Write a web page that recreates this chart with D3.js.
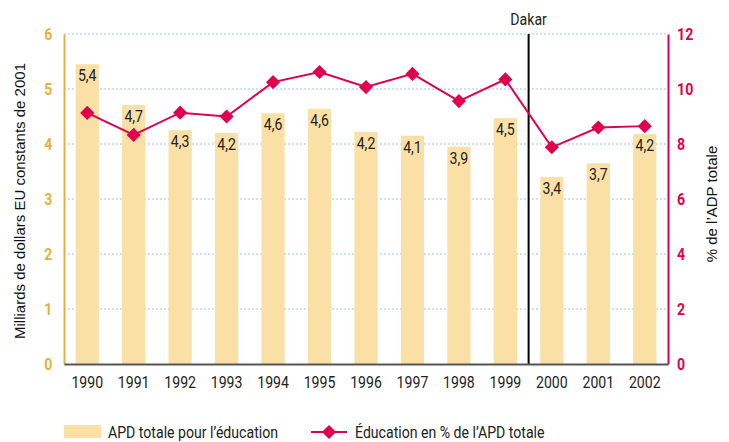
<!DOCTYPE html>
<html>
<head>
<meta charset="utf-8">
<script src="https://cdn.jsdelivr.net/npm/d3@7"></script>
<style>
  body { margin: 0; background: white; }
  svg { display: block; }
</style>
</head>
<body>
<div id="chart"></div>
<script>
// data
const years = ["1990", "1991", "1992", "1993", "1994", "1995", "1996", "1997", "1998", "1999", "2000", "2001", "2002"];
const apdEducation = [5.45, 4.71, 4.25, 4.2, 4.56, 4.64, 4.22, 4.15, 3.95, 4.47, 3.4, 3.65, 4.18];
const apdLabels = ["5,4", "4,7", "4,3", "4,2", "4,6", "4,6", "4,2", "4,1", "3,9", "4,5", "3,4", "3,7", "4,2"];
const educationShare = [9.13, 8.33, 9.14, 9.0, 10.25, 10.62, 10.07, 10.55, 9.56, 10.35, 7.88, 8.6, 8.65];
const leftTicks = [0, 1, 2, 3, 4, 5, 6];
const rightTicks = [0, 2, 4, 6, 8, 10, 12];

const gold = "#e3b23c";
const pink = "#e0004d";
const barColor = "#fbe0a6";
const FONT = "Roboto, sans-serif";
const SQUEEZE = 0.83; // condensed look

// dimensions
const dimensions = {
  width: 729,
  height: 442,
  margins: { top: 34, right: 61, bottom: 78, left: 64 }
};
dimensions.boundedWidth = dimensions.width - dimensions.margins.left - dimensions.margins.right;
dimensions.boundedHeight = dimensions.height - dimensions.margins.top - dimensions.margins.bottom;

const wrapper = d3.select("#chart")
  .append("svg")
  .attr("width", dimensions.width)
  .attr("height", dimensions.height);

const bounds = wrapper.append("g")
  .attr("transform", `translate(${dimensions.margins.left},${dimensions.margins.top})`);

// condensed text at a given position
function narrowText(parent, x, y, size, str) {
  return parent.append("text")
    .attr("transform", `translate(${x},${y}) scale(${SQUEEZE},1)`)
    .attr("font-family", FONT)
    .attr("font-size", size)
    .attr("fill", "#222")
    .text(str);
}

// scales
const xScale = d3.scaleBand()
  .domain(years)
  .range([0, dimensions.boundedWidth])
  .paddingInner(0.5)
  .paddingOuter(0.25);

const yLeft = d3.scaleLinear().domain([0, 6]).range([dimensions.boundedHeight, 0]);
const yRight = d3.scaleLinear().domain([0, 12]).range([dimensions.boundedHeight, 0]);

// grid
bounds.append("g")
  .selectAll("line")
  .data(leftTicks.filter((d) => d > 0))
  .join("line")
  .attr("x1", 0)
  .attr("x2", dimensions.boundedWidth)
  .attr("y1", (d) => yLeft(d))
  .attr("y2", (d) => yLeft(d))
  .attr("stroke", "#9cc3e0")
  .attr("stroke-width", 1)
  .attr("stroke-dasharray", "2,2");

// bars
bounds.append("g")
  .selectAll("rect")
  .data(years)
  .join("rect")
  .attr("x", (d) => xScale(d))
  .attr("width", xScale.bandwidth())
  .attr("y", (d, i) => yLeft(apdEducation[i]))
  .attr("height", (d, i) => dimensions.boundedHeight - yLeft(apdEducation[i]))
  .attr("fill", barColor);

// bar labels
const barLabels = bounds.append("g");
years.forEach((d, i) => {
  narrowText(barLabels, xScale(d) + xScale.bandwidth() / 2, yLeft(apdEducation[i]) + 17, 17, apdLabels[i])
    .attr("text-anchor", "middle");
});

// Dakar line
const dakarX = xScale("2000") - xScale.step() * xScale.paddingInner() / 2;
bounds.append("line")
  .attr("x1", dakarX)
  .attr("x2", dakarX)
  .attr("y1", 0)
  .attr("y2", dimensions.boundedHeight)
  .attr("stroke", "#000")
  .attr("stroke-width", 2);

narrowText(bounds, dakarX, -9, 17, "Dakar").attr("text-anchor", "middle");

// line series
const lineGenerator = d3.line()
  .x((d, i) => xScale(years[i]) + xScale.bandwidth() / 2)
  .y((d) => yRight(d));

bounds.append("path")
  .attr("d", lineGenerator(educationShare))
  .attr("fill", "none")
  .attr("stroke", pink)
  .attr("stroke-width", 2);

const diamond = d3.symbol().type(d3.symbolSquare).size(100);
bounds.append("g")
  .selectAll("path")
  .data(educationShare)
  .join("path")
  .attr("d", diamond)
  .attr("transform", (d, i) =>
    `translate(${xScale(years[i]) + xScale.bandwidth() / 2},${yRight(d)}) rotate(45)`)
  .attr("fill", pink);

// axes
const leftAxis = d3.axisLeft(yLeft).tickValues(leftTicks).tickFormat(d3.format("d")).tickSize(0).tickPadding(14);
bounds.append("g")
  .call(leftAxis)
  .call((g) => g.select(".domain").attr("stroke", gold).attr("stroke-width", 2))
  .call((g) => g.selectAll("text")
    .attr("font-family", FONT)
    .attr("font-weight", 700)
    .attr("font-size", 17)
    .attr("fill", gold)
    .attr("transform", `scale(${SQUEEZE},1)`));

const rightAxis = d3.axisRight(yRight).tickValues(rightTicks).tickSize(0).tickPadding(11);
bounds.append("g")
  .attr("transform", `translate(${dimensions.boundedWidth},0)`)
  .call(rightAxis)
  .call((g) => g.select(".domain").attr("stroke", pink).attr("stroke-width", 2))
  .call((g) => g.selectAll("text")
    .attr("font-family", FONT)
    .attr("font-weight", 700)
    .attr("font-size", 17)
    .attr("fill", pink)
    .attr("transform", `scale(${SQUEEZE},1)`));

const xAxis = d3.axisBottom(xScale).tickSize(0).tickPadding(12);
bounds.append("g")
  .attr("transform", `translate(0,${dimensions.boundedHeight})`)
  .call(xAxis)
  .call((g) => g.select(".domain").attr("stroke", "#555").attr("stroke-width", 2))
  .call((g) => g.selectAll("text")
    .attr("font-family", FONT)
    .attr("font-size", 17)
    .attr("fill", "#222")
    .attr("transform", `scale(${SQUEEZE},1)`));

// axis titles
wrapper.append("text")
  .attr("transform", `translate(25,${dimensions.margins.top + dimensions.boundedHeight / 2 + 2}) rotate(-90)`)
  .attr("text-anchor", "middle")
  .attr("font-family", "Liberation Sans, Arial, sans-serif")
  .attr("font-size", 15)
  .attr("fill", "#111")
  .text("Milliards de dollars EU constants de 2001");

wrapper.append("text")
  .attr("transform", `translate(717,${dimensions.margins.top + dimensions.boundedHeight / 2 + 5}) rotate(-90)`)
  .attr("text-anchor", "middle")
  .attr("font-family", "Liberation Sans, Arial, sans-serif")
  .attr("font-size", 15)
  .attr("fill", "#111")
  .text("% de l\u2019ADP totale");

// legend
const legend = wrapper.append("g").attr("transform", "translate(64,432)");
legend.append("rect")
  .attr("x", 0).attr("y", -7)
  .attr("width", 37).attr("height", 13)
  .attr("fill", barColor);
narrowText(legend, 44, 6, 17, "APD totale pour l\u2019\u00e9ducation");

legend.append("line")
  .attr("x1", 247).attr("x2", 283)
  .attr("y1", 0).attr("y2", 0)
  .attr("stroke", pink).attr("stroke-width", 2);
legend.append("path")
  .attr("d", diamond)
  .attr("transform", "translate(265,0) rotate(45)")
  .attr("fill", pink);
narrowText(legend, 291, 6, 17, "\u00c9ducation en % de l\u2019APD totale");
</script>
</body>
</html>
